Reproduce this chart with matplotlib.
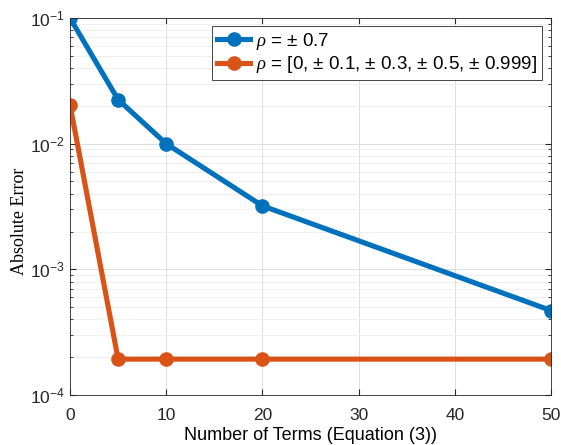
import matplotlib.pyplot as plt
from matplotlib.ticker import LogLocator, NullFormatter

terms = [0, 5, 10, 20, 50]
err_07 = [0.1, 0.0224, 0.01, 0.0032, 0.00047]
err_other = [0.0204, 0.000193, 0.000193, 0.000193, 0.000193]

blue = '#0072BD'
orange = '#D95319'

plt.rcParams['font.family'] = ['Liberation Sans', 'DejaVu Sans']
plt.rcParams['mathtext.fontset'] = 'custom'
plt.rcParams['mathtext.it'] = 'Liberation Serif:italic'
plt.rcParams['mathtext.rm'] = 'Liberation Sans'

fig = plt.figure(figsize=(5.61, 4.45), dpi=100)
ax = fig.add_axes([70 / 561, 50 / 445, 481 / 561, 377 / 445])

ax.plot(terms, err_07, '-o', color=blue, lw=3.7, ms=9.5, label=r'$\rho$ = $\pm$ 0.7')
ax.plot(terms, err_other, '-o', color=orange, lw=3.7, ms=9.5,
        label=r'$\rho$ = [0, $\pm$ 0.1, $\pm$ 0.3, $\pm$ 0.5, $\pm$ 0.999]')

ax.set_yscale('log')
ax.set_xlim(0, 50)
ax.set_ylim(1e-4, 1e-1)
ax.set_xticks([0, 10, 20, 30, 40, 50])
ax.yaxis.set_minor_locator(LogLocator(base=10, subs=range(2, 10)))
ax.yaxis.set_minor_formatter(NullFormatter())

ax.grid(True, which='major', color='#dcdcdc', lw=0.7)
ax.grid(True, which='minor', color='#ececec', lw=0.6)
ax.set_axisbelow(True)

for s in ax.spines.values():
    s.set_color('#262626')
    s.set_linewidth(0.6)
ax.tick_params(which='both', direction='in', top=True, right=True, labelsize=12.5, colors='#262626')
ax.tick_params(which='major', length=4)
ax.tick_params(which='minor', length=2)
ax.tick_params(axis='x', pad=9)

ax.set_xlabel('Number of Terms (Equation (3))', fontsize=13, labelpad=3)
ax.set_ylabel('Absolute Error', fontsize=13, family='Liberation Serif')
ax.yaxis.set_label_coords(-0.088, 0.46)

leg = ax.legend(loc='upper right', bbox_to_anchor=(0.981, 0.979), borderaxespad=0, fontsize=13.5,
                fancybox=False, edgecolor='#262626', framealpha=1,
                handlelength=1.8, borderpad=0.25, labelspacing=0.15, handletextpad=0.3)
leg.get_frame().set_linewidth(0.6)

fig.savefig('out.png', dpi=100)
